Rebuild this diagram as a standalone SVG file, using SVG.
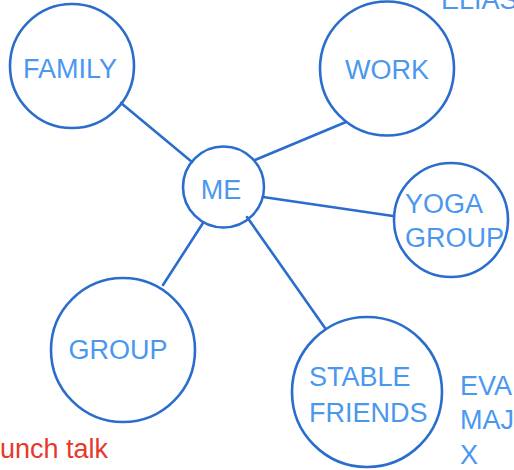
<svg xmlns="http://www.w3.org/2000/svg" width="514" height="470" viewBox="0 0 514 470">
<style>
.node{fill:none;stroke:#2a6dcc;stroke-width:2.6}
.conn line{stroke:#2a6dcc;stroke-width:2.6;stroke-linecap:round}
text{font-family:"Liberation Sans",Arial,sans-serif;font-size:27px;fill:#4a98ee}
.c{text-anchor:middle}
.red{fill:#e8382b}
</style>
<rect width="514" height="470" fill="#ffffff"/>
<g class="conn" id="connectors">
<line x1="121" y1="103" x2="192" y2="162"/>
<line x1="346" y1="122" x2="255" y2="160"/>
<line x1="263" y1="197" x2="393" y2="216"/>
<line x1="203" y1="223" x2="163" y2="285"/>
<line x1="247" y1="217" x2="325" y2="328"/>
</g>
<g id="me"><circle class="node" cx="223.5" cy="187" r="40.5"/><text class="c" x="221" y="199">ME</text></g>
<g id="family"><circle class="node" cx="72" cy="66" r="62"/><text class="c" x="70" y="78">FAMILY</text></g>
<g id="work"><circle class="node" cx="387" cy="68.5" r="67"/><text class="c" x="387" y="79">WORK</text></g>
<g id="yoga"><circle class="node" cx="451" cy="220" r="57"/><text x="405" y="213">YOGA</text><text x="405" y="247">GROUP</text></g>
<g id="group"><circle class="node" cx="123" cy="350" r="72"/><text class="c" x="118" y="359">GROUP</text></g>
<g id="stable"><circle class="node" cx="367" cy="392" r="75"/><text x="309" y="386">STABLE</text><text x="309" y="422">FRIENDS</text></g>
<text x="441" y="9">ELIAS</text>
<text x="460" y="395">EVA</text>
<text x="460" y="429">MAJ</text>
<text x="460" y="464">X</text>
<text class="red" x="0" y="458">unch talk</text>
</svg>
